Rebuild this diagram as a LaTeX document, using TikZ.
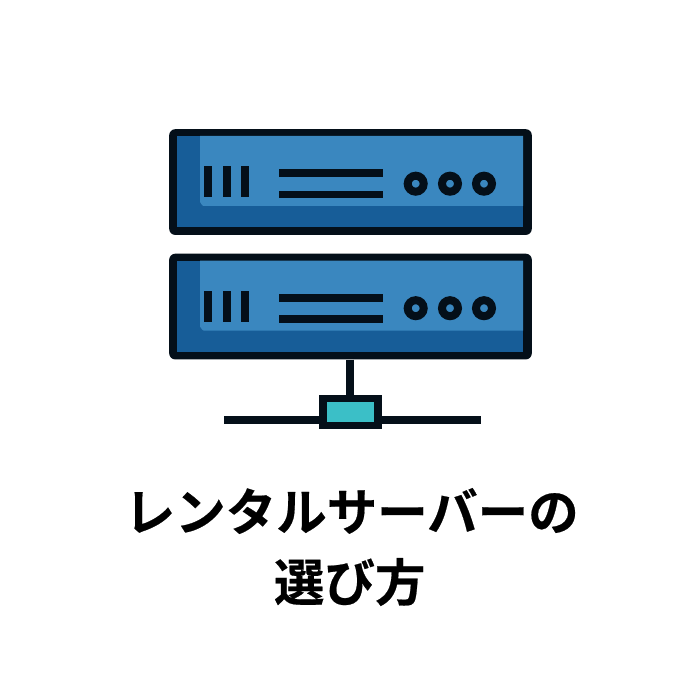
\documentclass[tikz,border=0pt]{standalone}
\usepackage{fontspec}
\newfontfamily\cjk[FakeBold=0.4]{Noto Sans CJK JP Bold}
\definecolor{inkc}{HTML}{040F19}
\definecolor{darkb}{HTML}{175D98}
\definecolor{lightb}{HTML}{3A87BF}
\definecolor{tealc}{HTML}{3BBFC7}
\tikzset{
  x=1pt,y=-1pt,
  bar/.style={fill=inkc,draw=none},
  lamp/.style={circle,draw=inkc,line width=8pt,fill=lightb,minimum size=16pt,inner sep=0pt},
  titletext/.style={font=\cjk\fontsize{50.5}{60}\selectfont,text=black,inner sep=0pt,anchor=center},
  wire/.style={draw=inkc,line width=7.7pt},
  hubbox/.style={draw=inkc,fill=tealc,line width=7.7pt,minimum width=55pt,minimum height=26.8pt,inner sep=0pt,anchor=center},
  serverbox/.style={draw=none,fill=inkc,rounded corners=6pt,minimum width=362.6pt,minimum height=105.7pt,inner sep=0pt,anchor=north west},
}
\newcommand{\serverunit}[2]{%
  \begin{scope}[yshift=-#1pt]
    \node[serverbox] (#2) at (169,129) {};
    \fill[darkb] (177,136) rectangle (523,227);
    \fill[lightb] (200,136) -- (523,136) -- (523,206) -- (203.5,206) to[out=180,in=90] (200,202.5) -- cycle;
    \fill[bar] (204,166) rectangle (212,197.3);
    \fill[bar] (222.5,166) rectangle (230.6,197.3);
    \fill[bar] (241.3,166) rectangle (249.3,197.3);
    \fill[bar] (278.7,169.3) rectangle (383,177);
    \fill[bar] (278.7,190.7) rectangle (383,198.3);
    \node[lamp] at (415.7,183.7) {};
    \node[lamp] at (450,183.7) {};
    \node[lamp] at (484,183.7) {};
  \end{scope}}
\begin{document}
\begin{tikzpicture}
\useasboundingbox (0,0) rectangle (700,700);
\fill[white] (0,0) rectangle (700,700);
\serverunit{0}{serverA}
\serverunit{124.5}{serverB}
\node[hubbox] (hub) at (350.15,412) {};
\coordinate (wl) at (224,420.2);
\coordinate (wr) at (480.7,420.2);
\draw[wire] (hub.north |- serverB.south) -- (hub.north);
\draw[wire] (wl) -- (hub.west |- wl);
\draw[wire] (hub.east |- wr) -- (wr);
\node[titletext] (t1) at (351.7,511) {レンタルサーバーの};
\node[titletext] (t2) at (349.7,582) {選び方};
\end{tikzpicture}
\end{document}
